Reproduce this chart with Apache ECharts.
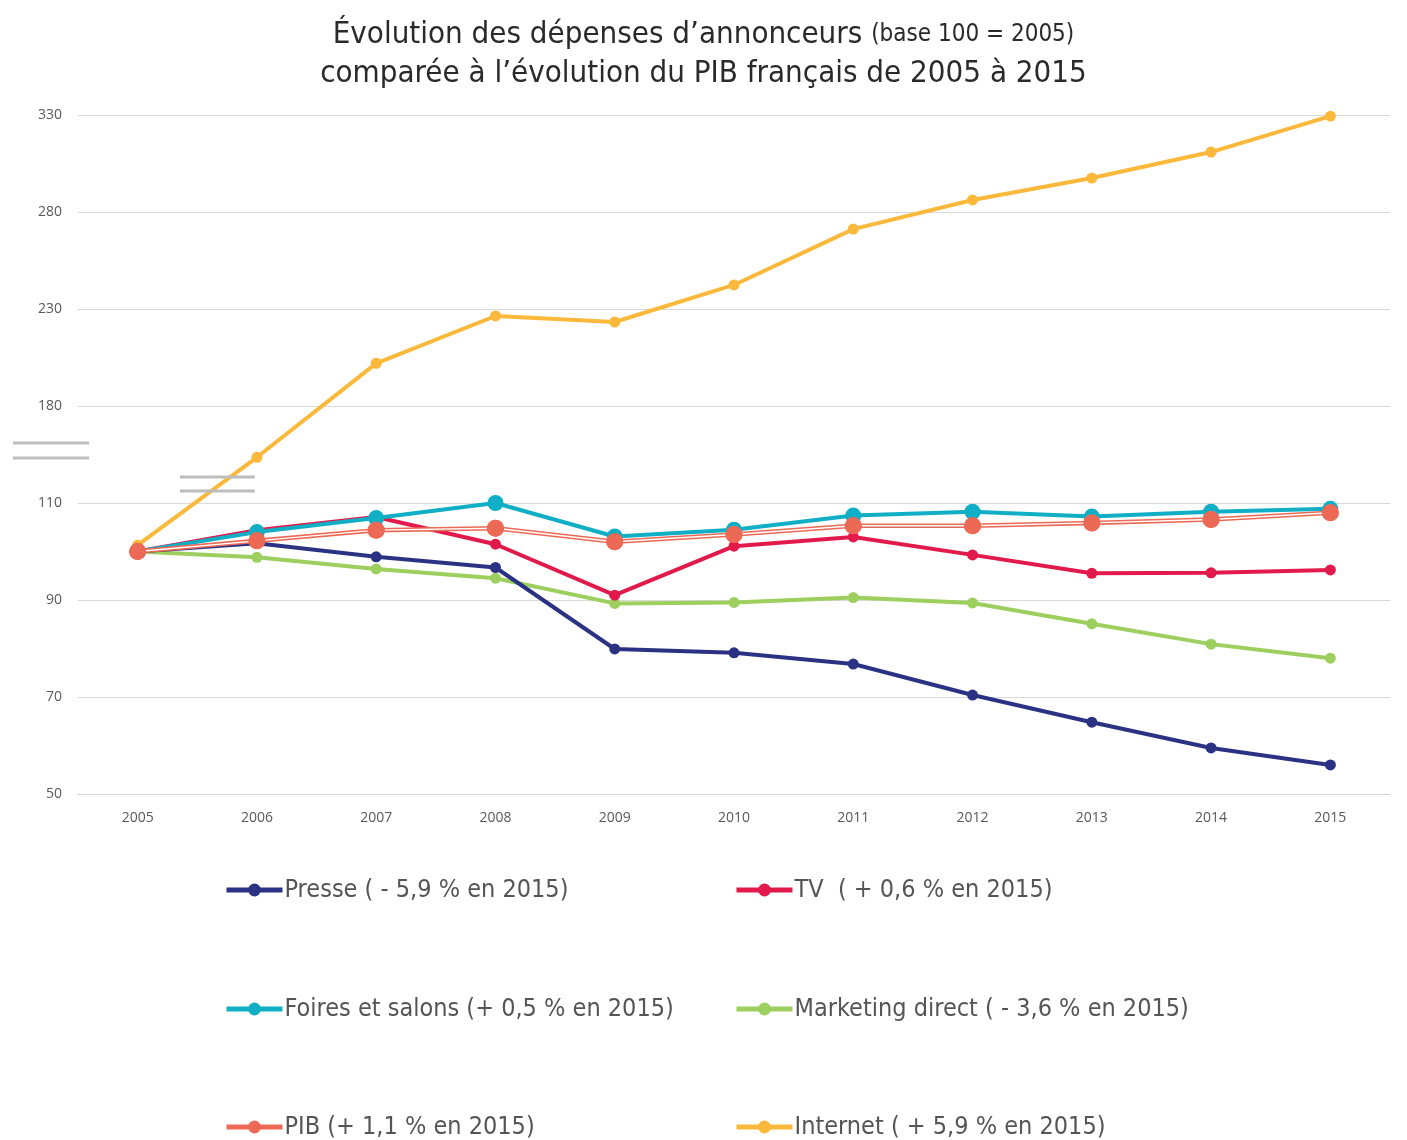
<!DOCTYPE html>
<html>
<head>
<meta charset="utf-8">
<script src="https://cdn.jsdelivr.net/npm/echarts@6/dist/echarts.min.js"></script>
<style>
  html, body { margin: 0; padding: 0; background: #fff; }
  #chart { width: 1407px; height: 1140px; }
</style>
</head>
<body>
<div id="chart"></div>
<script>
// années
const years = ["2005", "2006", "2007", "2008", "2009", "2010", "2011", "2012", "2013", "2014", "2015"];
// graduations de l'axe (axe coupé entre 110 et 180)
const yTicks = [50, 70, 90, 110, 180, 230, 280, 330];

// indices base 100 = 2005
const presse = [100, 101.7, 98.9, 96.7, 79.9, 79.1, 76.8, 70.4, 64.8, 59.5, 56.0];
const tv = [100, 104.4, 107.1, 101.5, 91.0, 101.1, 103.0, 99.3, 95.5, 95.6, 96.2];
const foires = [100, 104.0, 106.9, 110.0, 103.1, 104.5, 107.4, 108.2, 107.2, 108.2, 108.8];
const marketing = [100, 98.8, 96.4, 94.5, 89.3, 89.5, 90.5, 89.4, 85.1, 80.9, 78.0];
const pib = [100, 102.2, 104.4, 104.8, 102.0, 103.5, 105.3, 105.3, 105.9, 106.6, 108.0];
const internet = [101.3, 143, 202, 226.4, 223.3, 242.4, 271.2, 286.2, 297.5, 310.9, 329.4];

const names = {
  presse: "Presse ( - 5,9 % en 2015)",
  tv: "TV  ( + 0,6 % en 2015)",
  foires: "Foires et salons (+ 0,5 % en 2015)",
  marketing: "Marketing direct ( - 3,6 % en 2015)",
  pib: "PIB (+ 1,1 % en 2015)",
  internet: "Internet ( + 5,9 % en 2015)"
};

// valeur -> position sur l'axe par morceaux (un pas par graduation)
function toAxis(v) {
  for (let i = 0; i < yTicks.length - 1; i++) {
    if (v <= yTicks[i + 1]) {
      return i + (v - yTicks[i]) / (yTicks[i + 1] - yTicks[i]);
    }
  }
  return yTicks.length - 1;
}

const font = "Open Sans, Roboto, sans-serif";
const condFont = "'DejaVu Sans Condensed', 'Liberation Sans Narrow', Roboto, sans-serif";

function lineSeries(name, arr, color, size, extra) {
  return Object.assign({
    name: name,
    type: "line",
    data: arr.map(toAxis),
    symbol: "circle",
    symbolSize: size,
    color: color,
    lineStyle: { width: 4, color: color },
    itemStyle: { color: color },
    animation: false
  }, extra || {});
}

// une légende par entrée (2 colonnes, 3 rangées)
function legendItem(name, left, top) {
  return {
    data: [name],
    left: left,
    top: top,
    padding: 0,
    itemWidth: 56,
    itemHeight: 16,
    lineStyle: { width: 5 },
    textStyle: { fontFamily: condFont, fontSize: 25, color: "#555", lineHeight: 26, padding: [0, 0, 0, -3] }
  };
}

const chart = echarts.init(document.getElementById("chart"));

chart.setOption({
  backgroundColor: "#fff",
  title: {
    text: "Évolution des dépenses d’annonceurs {s|(base 100 = 2005)}\ncomparée à l’évolution du PIB français de 2005 à 2015",
    left: "center",
    top: 10,
    textStyle: {
      fontFamily: condFont,
      fontSize: 31,
      fontWeight: "normal",
      color: "#2a2a2a",
      lineHeight: 39,
      rich: {
        s: { fontFamily: condFont, fontSize: 24, color: "#2a2a2a", lineHeight: 39 }
      }
    }
  },
  grid: { left: 78, right: 17, top: 115, bottom: 346 },
  legend: [
    legendItem(names.presse, 224, 877),
    legendItem(names.tv, 734, 877),
    legendItem(names.foires, 224, 996),
    legendItem(names.marketing, 734, 996),
    legendItem(names.pib, 224, 1114),
    legendItem(names.internet, 734, 1114)
  ],
  xAxis: {
    type: "category",
    data: years,
    boundaryGap: true,
    axisLine: { lineStyle: { color: "#d4d4d4", width: 1 } },
    axisTick: { show: false },
    axisLabel: { fontFamily: font, fontSize: 14, color: "#595959", margin: 17 }
  },
  yAxis: {
    type: "value",
    min: 0,
    max: yTicks.length - 1,
    interval: 1,
    axisLine: { show: false },
    axisTick: { show: false },
    splitLine: { lineStyle: { color: "#d9d9d9", width: 1 } },
    axisLabel: {
      fontFamily: font,
      fontSize: 14,
      color: "#595959",
      margin: 16,
      formatter: (v) => String(yTicks[Math.round(v)])
    }
  },
  series: [
    lineSeries(names.internet, internet, "#fbb93c", 11),
    lineSeries(names.marketing, marketing, "#9ccf5e", 11),
    lineSeries(names.presse, presse, "#2b3283", 11),
    lineSeries(names.tv, tv, "#e21a4b", 11),
    lineSeries(names.foires, foires, "#10afc5", 16),
    lineSeries(names.pib, pib, "#ec6a55", 17, { lineStyle: { width: 4.5, color: "#ec6a55" } }),
    // trait blanc au centre du PIB (double trait)
    {
      name: "pib-inner",
      type: "line",
      data: pib.map(toAxis),
      showSymbol: false,
      symbol: "none",
      lineStyle: { width: 1.4, color: "#ffffff" },
      animation: false,
      silent: true
    },
    {
      name: "pib-points",
      type: "line",
      data: pib.map(toAxis),
      symbol: "circle",
      symbolSize: 17,
      itemStyle: { color: "#ec6a55" },
      lineStyle: { width: 0, opacity: 0 },
      animation: false
    }
  ],
  graphic: [
    { type: "line", z: 100, shape: { x1: 13, y1: 443, x2: 89, y2: 443 }, style: { stroke: "#bdbdbd", lineWidth: 3 } },
    { type: "line", z: 100, shape: { x1: 13, y1: 458, x2: 89, y2: 458 }, style: { stroke: "#bdbdbd", lineWidth: 3 } },
    { type: "line", z: 100, shape: { x1: 180, y1: 477, x2: 255, y2: 477 }, style: { stroke: "#bdbdbd", lineWidth: 3 } },
    { type: "line", z: 100, shape: { x1: 180, y1: 491, x2: 255, y2: 491 }, style: { stroke: "#bdbdbd", lineWidth: 3 } }
  ]
});
</script>
</body>
</html>
